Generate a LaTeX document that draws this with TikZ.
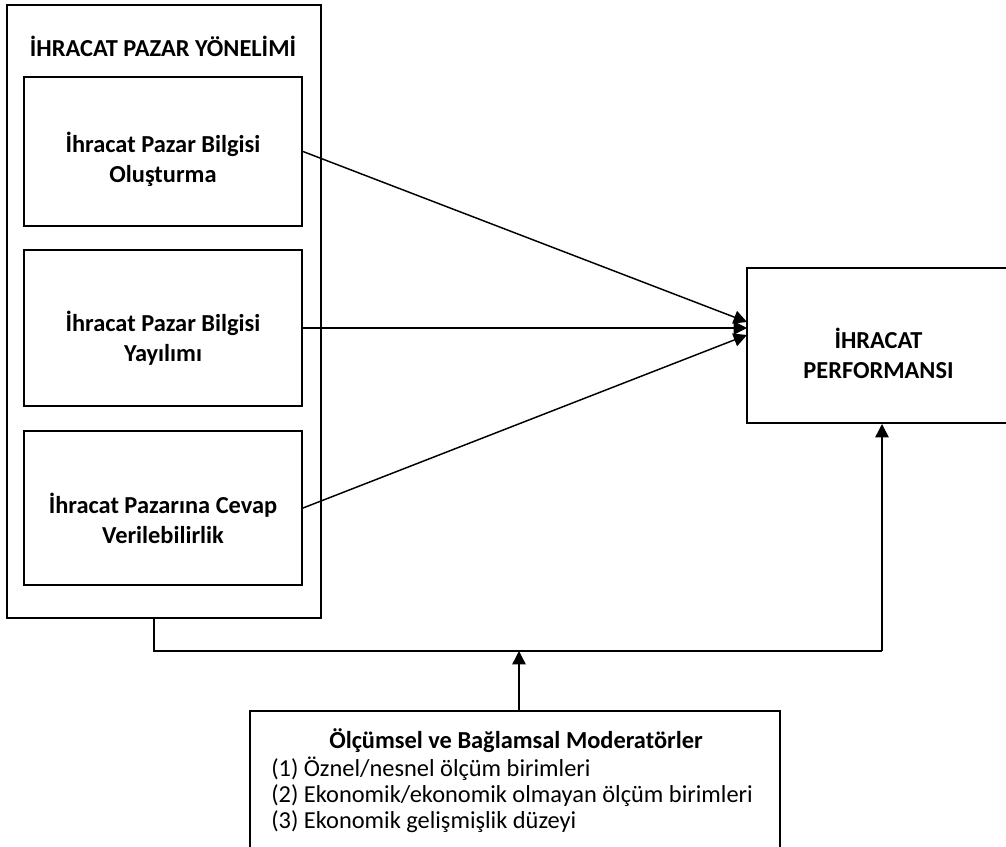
\documentclass[tikz,border=0pt]{standalone}
\usepackage{fontspec}
\setmainfont{Carlito}
\usepackage{tikz}
\usetikzlibrary{arrows.meta}
\tikzset{
  metin/.style = {align=center, inner sep=0pt, font=\fontsize{18.3}{22.5}\selectfont\bfseries},
  kutu/.style = {draw, line width=1.5pt, rectangle, inner sep=0pt, minimum width=208.5pt},% ic kutular
  ok/.style = {line width=1.1pt, -{Triangle[length=10pt,width=10pt]}},
  cizgi/.style = {line width=1.1pt}
}
\begin{document}
\begin{tikzpicture}[x=0.75pt,y=-0.75pt]
\useasboundingbox (0,0) rectangle (1006,846);
\node [kutu, minimum width=235.5pt, minimum height=459.75pt] (dis) at (164,311.5) {};
\node [metin] (baslik) at (163,46) {İHRACAT PAZAR YÖNELİMİ};
\node [kutu, minimum height=112pt] (b1) at (163,151.5) {};
\node [metin, yshift=-6pt] at (b1) {İhracat Pazar Bilgisi\\Oluşturma};
\node [kutu, minimum height=117pt] (b2) at (163,328) {};
\node [metin, yshift=-8pt] at (b2) {İhracat Pazar Bilgisi\\Yayılımı};
\node [kutu, minimum height=115.5pt] (b3) at (163,508) {};
\node [metin, yshift=-8pt] at (b3) {İhracat Pazarına Cevap\\Verilebilirlik};
\node [kutu, minimum width=197.25pt, minimum height=116.25pt] (perf) at (878.5,345.5) {};
\node [metin, yshift=-6pt] at (perf) {İHRACAT\\PERFORMANSI};
\node [kutu, minimum width=398pt, minimum height=111.75pt] (mod) at (515,785.5) {};
\node [metin] (modt) at (516,741) {Ölçümsel ve Bağlamsal Moderatörler};
\node [metin, font=\fontsize{18.3}{19.5}\selectfont, align=left, anchor=north west] (liste) at (271,757)
  {(1) Öznel/nesnel ölçüm birimleri\\(2) Ekonomik/ekonomik olmayan ölçüm birimleri\\(3) Ekonomik gelişmişlik düzeyi};
% oklar
\coordinate (t1) at (747,322);
\coordinate (t2) at (747,328);
\coordinate (t3) at (747,335);
\draw [ok] (b1.east) -- (t1);
\draw [ok] (b2.east) -- (t2);
\draw [ok] (b3.east) -- (t3);
\coordinate (k1) at (154,651);
\coordinate (k2) at (882,651);
\coordinate (k3) at (519,651);
\draw [cizgi] (dis.south -| k1) -- (k1) -- (k2);
\draw [ok] (k2) -- (perf.south -| k2);
\draw [ok] (mod.north -| k3) -- (k3);
\end{tikzpicture}
\end{document}
